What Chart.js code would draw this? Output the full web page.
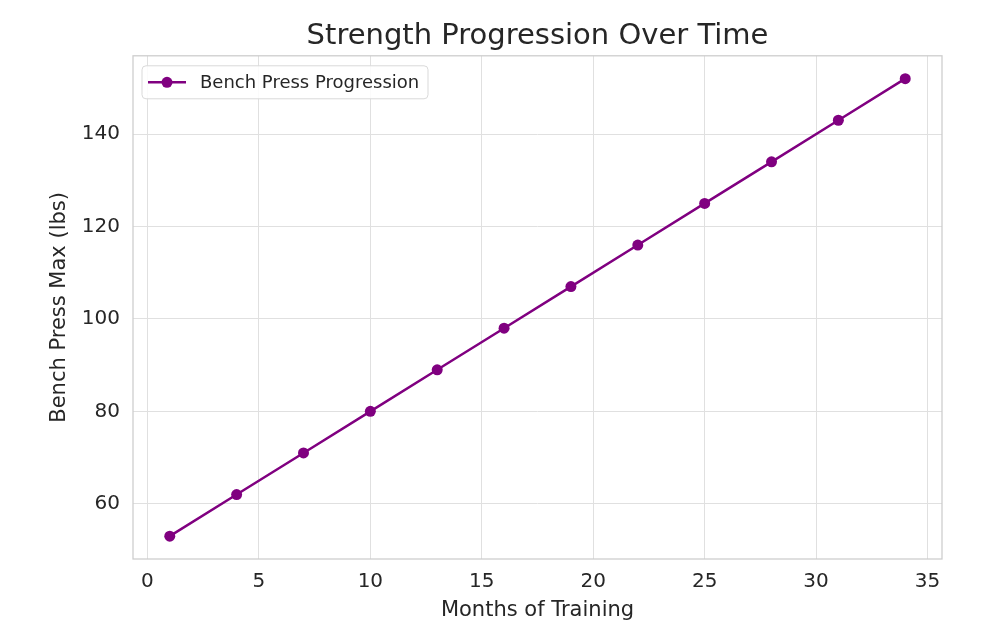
<!DOCTYPE html>
<html>
<head>
<meta charset="utf-8">
<script src="https://cdn.jsdelivr.net/npm/chart.js@4"></script>
<style>
  html, body { margin:0; padding:0; background:#fff; }
  #wrap { width:1000px; height:630px; }
</style>
</head>
<body>
<div id="wrap"><canvas id="c" width="1000" height="630"></canvas></div>
<script>
// ── Data ───────────────────────────────────────────
const months   = [1, 4, 7, 10, 13, 16, 19, 22, 25, 28, 31, 34];
const benchMax = [53, 62, 71, 80, 89, 98, 107, 116, 125, 134, 143, 152];
const seriesLabel = 'Bench Press Progression';

const PURPLE = '#800080';
const FONT   = "'DejaVu Sans', sans-serif";

// box round the plot + legend inside the plot, matplotlib style
const frameAndLegend = {
  id: 'frameAndLegend',
  afterDraw(chart) {
    const { ctx, chartArea: a } = chart;
    ctx.save();
    ctx.strokeStyle = '#cccccc';
    ctx.lineWidth = 1.25;
    ctx.strokeRect(a.left, a.top, a.right - a.left, a.bottom - a.top);

    // legend box
    const bx = a.left + 9, by = a.top + 10, bw = 286, bh = 33;
    ctx.fillStyle = 'rgba(255,255,255,0.85)';
    ctx.strokeStyle = '#d9d9d9';
    ctx.lineWidth = 1;
    ctx.beginPath();
    ctx.roundRect(bx, by, bw, bh, 4);
    ctx.fill();
    ctx.stroke();

    const cy = by + bh / 2;
    ctx.strokeStyle = PURPLE;
    ctx.lineWidth = 2.5;
    ctx.beginPath();
    ctx.moveTo(bx + 6, cy);
    ctx.lineTo(bx + 44, cy);
    ctx.stroke();
    ctx.fillStyle = PURPLE;
    ctx.beginPath();
    ctx.arc(bx + 25, cy, 5.5, 0, Math.PI * 2);
    ctx.fill();

    ctx.fillStyle = '#262626';
    ctx.font = `18px ${FONT}`;
    ctx.textBaseline = 'middle';
    ctx.fillText(seriesLabel, bx + 58, cy + 1);
    ctx.restore();
  }
};

new Chart(document.getElementById('c'), {
  type: 'line',
  data: {
    datasets: [{
      label:           seriesLabel,
      data:            months.map((m, i) => ({ x: m, y: benchMax[i] })),
      borderColor:     PURPLE,
      backgroundColor: PURPLE,
      borderWidth:     2.5,
      pointRadius:     5.5,
      pointHoverRadius: 5.5,
      pointBorderWidth: 0,
      tension:         0,
    }]
  },
  options: {
    responsive: false,
    animation: false,
    layout: { padding: { left: 0, right: 58, top: 0, bottom: 0 } },
    plugins: {
      legend: { display: false },
      tooltip: { enabled: false },
      title: {
        display: true,
        fullSize: false,
        text: 'Strength Progression Over Time',
        color: '#262626',
        font: { family: FONT, size: 29, weight: 'normal', lineHeight: 1.2 },
        padding: { top: 19, bottom: 2 },
      }
    },
    scales: {
      x: {
        type: 'linear',
        min: -0.65,
        max: 35.65,
        afterFit: s => { s.height = 71; },
        grid:   { color: '#e0e0e0', lineWidth: 1, drawTicks: false },
        border: { display: false },
        ticks:  { stepSize: 5, includeBounds: false, padding: 11, color: '#262626',
                  font: { family: FONT, size: 20 } },
        title:  { display: true, text: 'Months of Training', color: '#262626',
                  font: { family: FONT, size: 21, lineHeight: 1.2 },
                  padding: { top: 0, bottom: 7 } }
      },
      y: {
        type: 'linear',
        min: 48.05,
        max: 156.95,
        afterFit: s => { s.width = 133; },
        grid:   { color: '#e0e0e0', lineWidth: 1, drawTicks: false },
        border: { display: false },
        ticks:  { stepSize: 20, includeBounds: false, padding: 13, color: '#262626',
                  font: { family: FONT, size: 20 } },
        title:  { display: true, text: 'Bench Press Max (lbs)', color: '#262626',
                  font: { family: FONT, size: 21, lineHeight: 1.2 },
                  padding: { top: 47, bottom: 0 } }
      }
    }
  },
  plugins: [frameAndLegend]
});
</script>
</body>
</html>
